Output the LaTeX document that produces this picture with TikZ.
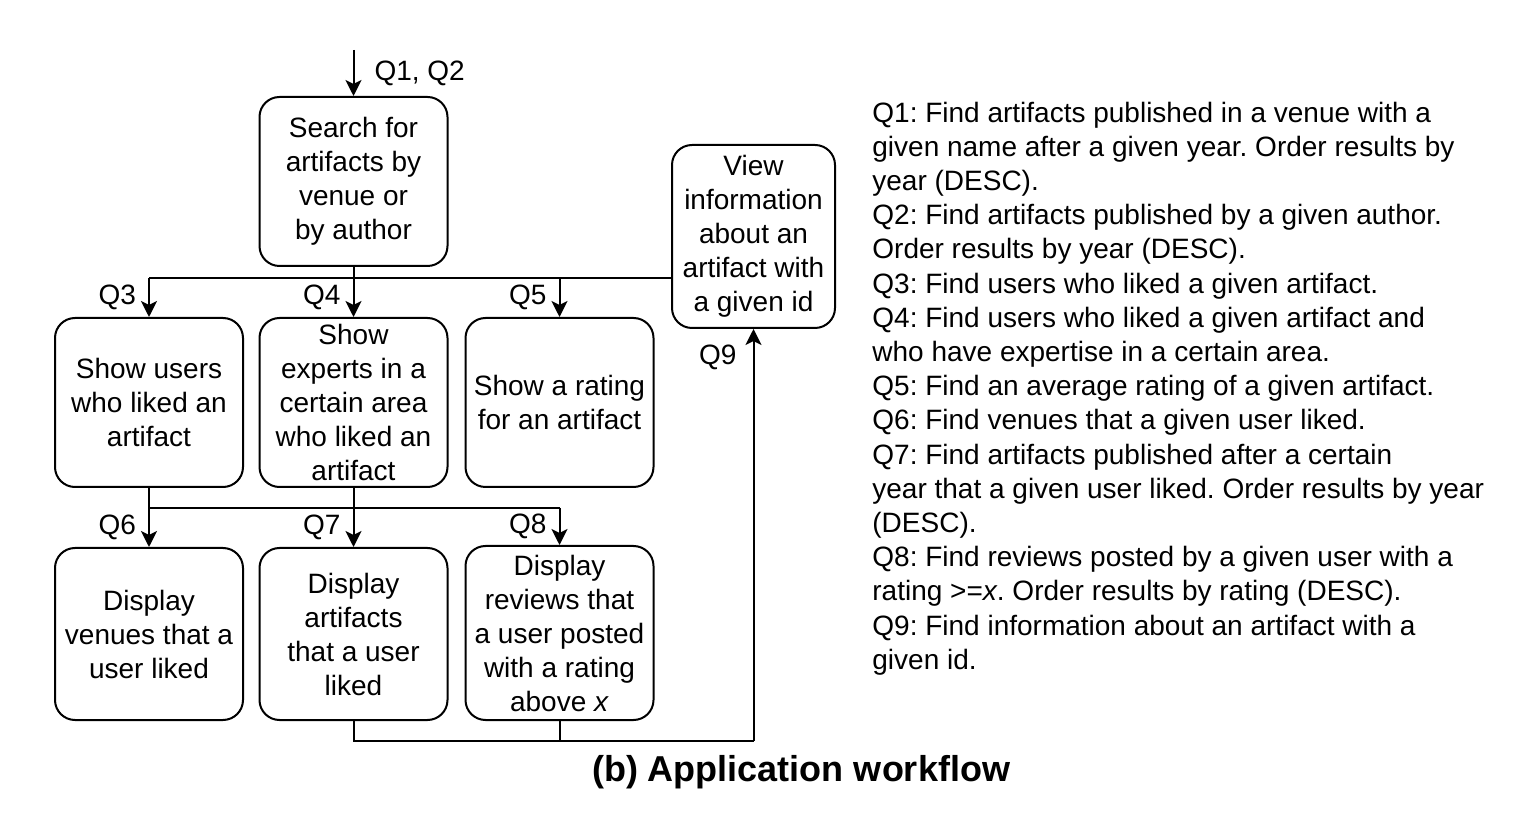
\documentclass[tikz,border=0pt]{standalone}
\usepackage{fontspec}
\setmainfont{Liberation Sans}
\usepackage{tikz}
\usetikzlibrary{arrows.meta, positioning}
\frenchspacing

\begin{document}
\begin{tikzpicture}[x=0.5pt, y=-0.5pt,
    box/.style={draw, rounded corners=10pt, line width=1pt, minimum width=94pt,
      minimum height=84.5pt, align=center, inner sep=1pt, font=\fontsize{14}{17}\selectfont},
    link/.style={line width=1pt},
    flow/.style={line width=1pt, -{Stealth[length=8pt, width=8pt, inset=2pt]}},
    qlabel/.style={inner sep=1pt, font=\fontsize{14}{17}\selectfont}]
  \useasboundingbox (0, 0) rectangle (1521, 817);

  \node[box] (Search) at (353.5, 181.5) {Search for\\artifacts by\\venue or\\by author};
  \node[box, minimum width=81.5pt, minimum height=91.5pt] (View) at (753.5, 236.5)
    {View\\information\\about an\\artifact with\\a given id};
  \node[box] (Users) at (149, 402.5) {Show users\\who liked an\\artifact};
  \node[box] (Experts) at (353.5, 402.5) {Show\\experts in a\\certain area\\who liked an\\artifact};
  \node[box] (Rating) at (559.5, 402.5) {Show a rating\\for an artifact};
  \node[box, minimum height=86pt] (Venues) at (149, 634) {Display\\venues that a\\user liked};
  \node[box, minimum height=86pt] (Artifacts) at (353.5, 634) {Display\\artifacts\\that a user\\liked};
  \node[box, minimum height=87pt] (Reviews) at (559.5, 633)
    {Display\\reviews that\\a user posted\\with a rating\\above \textit{x}};

  % entry
  \coordinate (entry) at (353.5, 50);
  \draw[flow] (entry) -- node[qlabel, right=9pt] {Q1, Q2} (Search);

  % first level
  \coordinate (busA) at (149, 278);
  \draw[link] (Search.south) -- (Search.south |- busA);
  \draw[link] (busA) -- (busA -| View.west);
  \draw[flow] (busA) -- node[qlabel, left=5pt] {Q3} (Users);
  \draw[flow] (Search.south |- busA) -- node[qlabel, left=5pt] {Q4} (Experts);
  \draw[flow] (Rating |- busA) -- node[qlabel, left=5pt] {Q5} (Rating);

  % second level
  \coordinate (busB) at (149, 508);
  \draw[link] (Users) -- (busB);
  \draw[link] (Experts) -- (Experts |- busB);
  \draw[link] (busB) -- (busB -| Reviews);
  \draw[flow] (busB) -- node[qlabel, left=5pt] {Q6} (Venues);
  \draw[flow] (Experts |- busB) -- node[qlabel, left=5pt] {Q7} (Artifacts);
  \draw[flow] (busB -| Reviews) -- node[qlabel, left=5pt] {Q8} (Reviews);

  % back to view
  \coordinate (busC) at (753.5, 741);
  \draw[link] (Artifacts) -- (Artifacts |- busC) -- (busC);
  \draw[link] (Reviews) -- (Reviews |- busC);
  \draw[flow] (busC) -- node[qlabel, pos=0.93, left=7pt] {Q9} (View);

  \node[anchor=north west, align=left, inner sep=0pt, font=\fontsize{14}{17.1}\selectfont]
    (queries) at (872, 101.5)
    {Q1: Find artifacts published in a venue with a\\
     given name after a given year. Order results by\\
     year (DESC).\\
     Q2: Find artifacts published by a given author.\\
     Order results by year (DESC).\\
     Q3: Find users who liked a given artifact.\\
     Q4: Find users who liked a given artifact and\\
     who have expertise in a certain area.\\
     Q5: Find an average rating of a given artifact.\\
     Q6: Find venues that a given user liked.\\
     Q7: Find artifacts published after a certain\\
     year that a given user liked. Order results by year\\
     (DESC).\\
     Q8: Find reviews posted by a given user with a\\
     rating >=\textit{x}. Order results by rating (DESC).\\
     Q9: Find information about an artifact with a\\
     given id.};

  \node[font=\fontsize{18}{22}\selectfont\bfseries] (caption) at (801, 772)
    {(b) Application workflow};
\end{tikzpicture}
\end{document}
